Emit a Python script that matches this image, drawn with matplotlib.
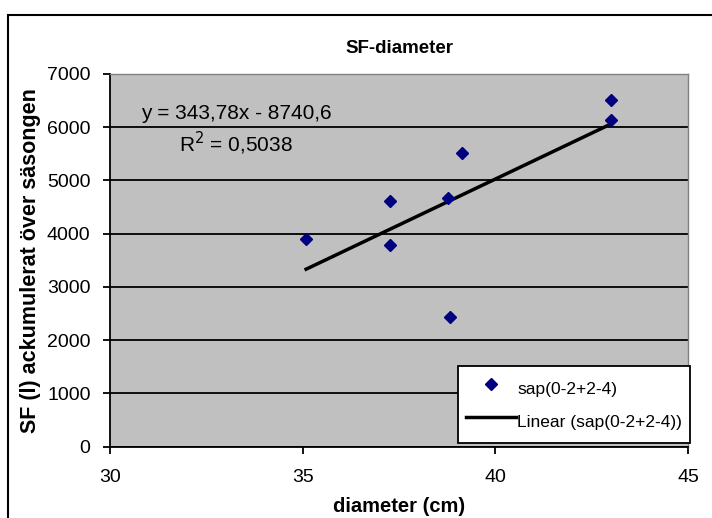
import numpy as np
import matplotlib
matplotlib.use("Agg")
from matplotlib import pyplot as plt
from matplotlib.patches import Rectangle

plt.rcParams['font.family'] = ['Liberation Sans', 'DejaVu Sans']

# diameter (cm) and accumulated sap flow per tree
diameter = [35.09, 37.27, 37.27, 38.76, 39.13, 38.82, 42.99, 42.99]
sap_flow = [3900, 4615, 3782, 4665, 5511, 2434, 6513, 6137]

series_label = 'sap(0-2+2-4)'
x_ticks = [30, 35, 40, 45]
y_ticks = [0, 1000, 2000, 3000, 4000, 5000, 6000, 7000]

# linear trendline
slope, intercept = np.polyfit(diameter, sap_flow, 1)
x_fit = np.array([min(diameter), max(diameter)])
y_fit = slope * x_fit + intercept

fig = plt.figure(figsize=(7.12, 5.18), dpi=100)
fig.patches.append(Rectangle((8 / 712, -0.01), 1.0, 1 - 15 / 518 + 0.01,
                             transform=fig.transFigure, fill=False,
                             edgecolor='black', linewidth=1.5))

ax = fig.add_axes([110 / 712, 1 - 446.5 / 518, 578 / 712, 372.5 / 518])
ax.set_facecolor('#c0c0c0')
ax.set_xlim(30, 45)
ax.set_ylim(0, 7000)
ax.set_xticks(x_ticks)
ax.set_yticks(y_ticks)
ax.yaxis.grid(True, color='black', linewidth=1.3)
ax.set_axisbelow(True)

for side in ['top', 'right']:
    ax.spines[side].set_color('#808080')
    ax.spines[side].set_linewidth(1.0)
for side in ['left', 'bottom']:
    ax.spines[side].set_linewidth(1.3)
ax.tick_params(direction='out', length=5, width=1.3, labelsize=14)
ax.tick_params(axis='y', pad=9)
ax.tick_params(axis='x', pad=11)

ax.plot(diameter, sap_flow, linestyle='none', marker='D', markersize=6.5,
        color='#000080', label=series_label, zorder=3)
ax.plot(x_fit, y_fit, color='black', linewidth=2.5,
        label='Linear (%s)' % series_label, zorder=2)

# trendline equation
ax.text(33.28, 6260, 'y = 343,78x - 8740,6', ha='center', va='center',
        fontsize=15)
ax.text(33.28, 5700, 'R$^2$ = 0,5038', ha='center', va='center',
        fontsize=15)

ax.set_title('SF-diameter', fontsize=13.5, fontweight='bold', pad=15)
ax.set_xlabel('diameter (cm)', fontsize=14.5, fontweight='bold')
ax.set_ylabel('SF (l) ackumulerat över säsongen', fontsize=15.5,
              fontweight='bold')
ax.xaxis.set_label_coords(0.5, -0.135)
ax.yaxis.set_label_coords(-0.12, 0.5)

leg = ax.legend(loc='lower right', bbox_to_anchor=(1.0035, 0.0094),
                borderaxespad=0, fontsize=12.5, frameon=True, fancybox=False,
                borderpad=0.45, labelspacing=0.29, handlelength=2.9,
                handleheight=2.1, handletextpad=0.05)
leg.get_frame().set_edgecolor('black')
leg.get_frame().set_linewidth(1.3)
leg.get_frame().set_facecolor('white')
leg.get_frame().set_alpha(1)

fig.savefig('out.png', dpi=100)
